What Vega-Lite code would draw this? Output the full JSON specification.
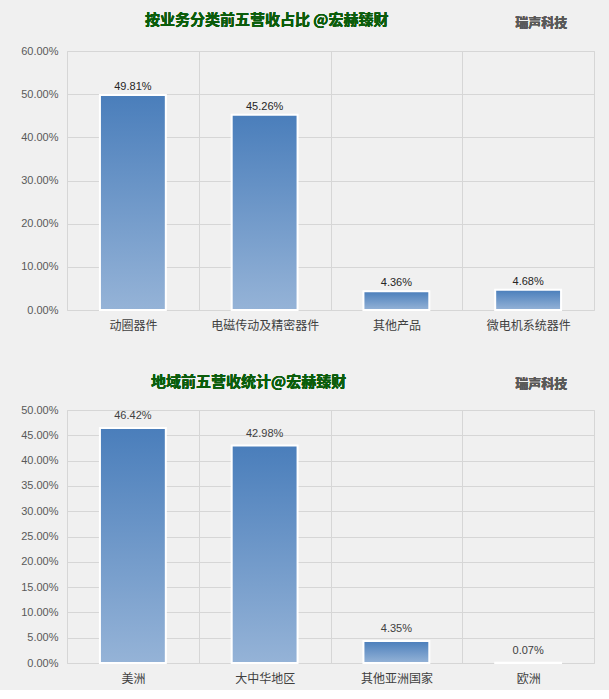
{
  "$schema": "https://vega.github.io/schema/vega-lite/v6.json",
  "background": "#f0f0f0",
  "padding": {"left": 20, "top": 12, "right": 14, "bottom": 5},
  "spacing": 42,
  "config": {
    "font": "Noto Sans CJK SC",
    "view": {"stroke": "#d6d6d6", "strokeWidth": 1},
    "axis": {"gridColor": "#d6d6d6", "gridWidth": 1, "domain": false, "ticks": false, "labelFont": "Noto Sans CJK SC"}
  },
  "vconcat": [
    {
      "width": 527,
      "height": 259,
      "data": {"values": [
        {"category": "动圈器件", "value": 0.4981},
        {"category": "电磁传动及精密器件", "value": 0.4526},
        {"category": "其他产品", "value": 0.0436},
        {"category": "微电机系统器件", "value": 0.0468}
      ]},
      "encoding": {
        "x": {"field": "category", "type": "nominal", "sort": null,
          "scale": {"paddingInner": 0, "paddingOuter": 0},
          "axis": {"title": null, "labelAngle": 0, "labelFontSize": 12, "labelColor": "#404040", "labelPadding": 10, "tickBand": "extent", "grid": true}}
      },
      "layer": [
        {
          "mark": {"type": "bar", "width": {"band": 0.5}, "stroke": "white", "strokeWidth": 2,
            "fill": {"gradient": "linear", "x1": 0, "y1": 0, "x2": 0, "y2": 1,
              "stops": [{"offset": 0, "color": "#4a7ebb"}, {"offset": 1, "color": "#95b3d7"}]}},
          "encoding": {
            "y": {"field": "value", "type": "quantitative",
              "scale": {"domain": [0, 0.6], "nice": false},
              "axis": {"title": null, "format": ".2%", "values": [0, 0.1, 0.2, 0.3, 0.4, 0.5, 0.6], "labelFont": "Liberation Sans", "labelOverlap": false, "labelFontSize": 11, "labelColor": "#595959", "labelPadding": 9}}
          }
        },
        {
          "mark": {"type": "text", "dy": -8, "fontSize": 11, "font": "Liberation Sans", "color": "#262626"},
          "encoding": {
            "y": {"field": "value", "type": "quantitative",
              "axis": {"title": null, "format": ".2%", "values": [0, 0.1, 0.2, 0.3, 0.4, 0.5, 0.6], "labelFont": "Liberation Sans", "labelOverlap": false, "labelFontSize": 11, "labelColor": "#595959", "labelPadding": 9}},
            "text": {"field": "value", "type": "quantitative", "format": ".2%"}
          }
        },
        {
          "mark": {"type": "text", "dx": 2, "fontSize": 15, "fontWeight": "bold", "color": "#0b5d0b", "baseline": "middle"},
          "encoding": {
            "x": {"datum": "电磁传动及精密器件"},
            "y": {"datum": 0.672, "type": "quantitative",
              "axis": {"title": null, "format": ".2%", "values": [0, 0.1, 0.2, 0.3, 0.4, 0.5, 0.6], "labelFont": "Liberation Sans", "labelOverlap": false, "labelFontSize": 11, "labelColor": "#595959", "labelPadding": 9}},
            "text": {"value": "按业务分类前五营收占比 @宏赫臻财"}
          }
        },
        {
          "mark": {"type": "text", "dx": 13, "fontSize": 13, "fontWeight": "bold", "color": "#595959", "baseline": "middle"},
          "encoding": {
            "x": {"datum": "微电机系统器件"},
            "y": {"datum": 0.665, "type": "quantitative",
              "axis": {"title": null, "format": ".2%", "values": [0, 0.1, 0.2, 0.3, 0.4, 0.5, 0.6], "labelFont": "Liberation Sans", "labelOverlap": false, "labelFontSize": 11, "labelColor": "#595959", "labelPadding": 9}},
            "text": {"value": "瑞声科技"}
          }
        }
      ]
    },
    {
      "width": 527,
      "height": 253,
      "data": {"values": [
        {"category": "美洲", "value": 0.4642},
        {"category": "大中华地区", "value": 0.4298},
        {"category": "其他亚洲国家", "value": 0.0435},
        {"category": "欧洲", "value": 0.0007}
      ]},
      "encoding": {
        "x": {"field": "category", "type": "nominal", "sort": null,
          "scale": {"paddingInner": 0, "paddingOuter": 0},
          "axis": {"title": null, "labelAngle": 0, "labelFontSize": 12, "labelColor": "#404040", "labelPadding": 10, "tickBand": "extent", "grid": true}}
      },
      "layer": [
        {
          "mark": {"type": "bar", "width": {"band": 0.5}, "stroke": "white", "strokeWidth": 2,
            "fill": {"gradient": "linear", "x1": 0, "y1": 0, "x2": 0, "y2": 1,
              "stops": [{"offset": 0, "color": "#4a7ebb"}, {"offset": 1, "color": "#95b3d7"}]}},
          "encoding": {
            "y": {"field": "value", "type": "quantitative",
              "scale": {"domain": [0, 0.5], "nice": false},
              "axis": {"title": null, "format": ".2%", "values": [0, 0.05, 0.1, 0.15, 0.2, 0.25, 0.3, 0.35, 0.4, 0.45, 0.5], "labelFont": "Liberation Sans", "labelOverlap": false, "labelFontSize": 11, "labelColor": "#595959", "labelPadding": 9}}
          }
        },
        {
          "mark": {"type": "text", "dy": -12, "fontSize": 11, "font": "Liberation Sans", "color": "#404040"},
          "encoding": {
            "y": {"field": "value", "type": "quantitative",
              "axis": {"title": null, "format": ".2%", "values": [0, 0.05, 0.1, 0.15, 0.2, 0.25, 0.3, 0.35, 0.4, 0.45, 0.5], "labelFont": "Liberation Sans", "labelOverlap": false, "labelFontSize": 11, "labelColor": "#595959", "labelPadding": 9}},
            "text": {"field": "value", "type": "quantitative", "format": ".2%"}
          }
        },
        {
          "mark": {"type": "text", "dx": -16, "fontSize": 15, "fontWeight": "bold", "color": "#0b5d0b", "baseline": "middle"},
          "encoding": {
            "x": {"datum": "大中华地区"},
            "y": {"datum": 0.5553, "type": "quantitative",
              "axis": {"title": null, "format": ".2%", "values": [0, 0.05, 0.1, 0.15, 0.2, 0.25, 0.3, 0.35, 0.4, 0.45, 0.5], "labelFont": "Liberation Sans", "labelOverlap": false, "labelFontSize": 11, "labelColor": "#595959", "labelPadding": 9}},
            "text": {"value": "地域前五营收统计@宏赫臻财"}
          }
        },
        {
          "mark": {"type": "text", "dx": 13, "fontSize": 13, "fontWeight": "bold", "color": "#595959", "baseline": "middle"},
          "encoding": {
            "x": {"datum": "欧洲"},
            "y": {"datum": 0.5514, "type": "quantitative",
              "axis": {"title": null, "format": ".2%", "values": [0, 0.05, 0.1, 0.15, 0.2, 0.25, 0.3, 0.35, 0.4, 0.45, 0.5], "labelFont": "Liberation Sans", "labelOverlap": false, "labelFontSize": 11, "labelColor": "#595959", "labelPadding": 9}},
            "text": {"value": "瑞声科技"}
          }
        }
      ]
    }
  ]
}
